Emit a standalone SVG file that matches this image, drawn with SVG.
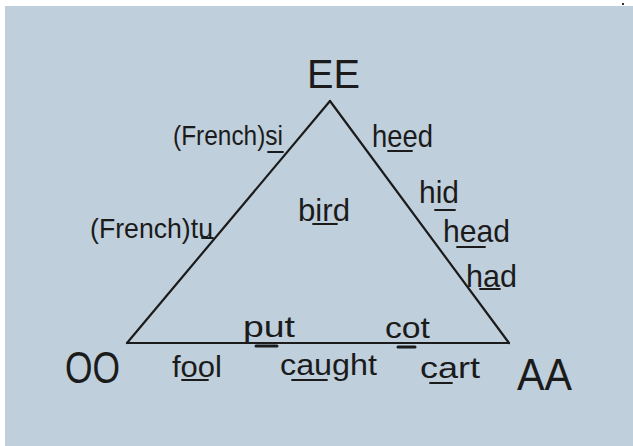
<svg xmlns="http://www.w3.org/2000/svg" width="633" height="446" viewBox="0 0 633 446">
<style>
.hw{font-family:"Liberation Sans","DejaVu Sans",sans-serif;fill:#1b1b1b}
.edge{stroke:#1b1b1b;stroke-width:2.2;fill:none;stroke-linecap:round}
.ul{stroke:#1b1b1b;stroke-width:1.8;stroke-linecap:round}
.ulb{stroke:#1b1b1b;stroke-width:3;stroke-linecap:round}
</style>
<rect x="0" y="0" width="633" height="446" fill="#ffffff"/>
<rect x="5" y="6" width="628" height="440" fill="#bfcfdc"/>
<rect x="622" y="3" width="2" height="2" fill="#333"/>
<g id="connectors">
<line class="edge" x1="330" y1="101" x2="127" y2="343"/>
<line class="edge" x1="330" y1="101" x2="509" y2="343"/>
<line class="edge" x1="127" y1="343" x2="509" y2="343"/>
</g>
<g id="node-EE"><text class="hw" x="307" y="88" font-size="40" textLength="53" lengthAdjust="spacingAndGlyphs">EE</text></g>
<g id="node-OO"><text class="hw" x="65" y="383" font-size="44" textLength="55" lengthAdjust="spacingAndGlyphs">OO</text></g>
<g id="node-AA"><text class="hw" x="517" y="390" font-size="44" textLength="55" lengthAdjust="spacingAndGlyphs">AA</text></g>
<g id="label-si"><text class="hw" x="173" y="145" font-size="27" textLength="110" lengthAdjust="spacingAndGlyphs">(French)si</text><line class="ul" x1="268" y1="152" x2="283" y2="152"/></g>
<g id="label-tu"><text class="hw" x="90" y="238" font-size="28" textLength="123" lengthAdjust="spacingAndGlyphs">(French)tu</text><line class="ul" x1="202" y1="238" x2="213" y2="238"/></g>
<g id="label-bird"><text class="hw" x="298" y="221" font-size="32" textLength="52" lengthAdjust="spacingAndGlyphs">bird</text><line class="ul" x1="313" y1="224" x2="337" y2="224"/></g>
<g id="label-heed"><text class="hw" x="372" y="147" font-size="32" textLength="61" lengthAdjust="spacingAndGlyphs">heed</text><line class="ul" x1="388" y1="151" x2="412" y2="151"/></g>
<g id="label-hid"><text class="hw" x="419" y="203" font-size="32" textLength="40" lengthAdjust="spacingAndGlyphs">hid</text><line class="ul" x1="435" y1="210" x2="455" y2="210"/></g>
<g id="label-head"><text class="hw" x="443" y="242" font-size="32" textLength="67" lengthAdjust="spacingAndGlyphs">head</text><line class="ul" x1="457" y1="247" x2="485" y2="247"/></g>
<g id="label-had"><text class="hw" x="466" y="287" font-size="32" textLength="51" lengthAdjust="spacingAndGlyphs">had</text><line class="ul" x1="480" y1="289" x2="500" y2="289"/></g>
<g id="label-put"><text class="hw" x="243" y="337" font-size="30" textLength="52" lengthAdjust="spacingAndGlyphs">put</text><line class="ulb" x1="256" y1="346" x2="277" y2="346"/></g>
<g id="label-cot"><text class="hw" x="385" y="338" font-size="30" textLength="45" lengthAdjust="spacingAndGlyphs">cot</text><line class="ulb" x1="398" y1="347" x2="415" y2="347"/></g>
<g id="label-fool"><text class="hw" x="172" y="377" font-size="30" textLength="50" lengthAdjust="spacingAndGlyphs">fool</text><line class="ul" x1="182" y1="380" x2="208" y2="380"/></g>
<g id="label-caught"><text class="hw" x="280" y="375" font-size="30" textLength="97" lengthAdjust="spacingAndGlyphs">caught</text><line class="ul" x1="292" y1="380" x2="327" y2="380"/></g>
<g id="label-cart"><text class="hw" x="420" y="378" font-size="30" textLength="60" lengthAdjust="spacingAndGlyphs">cart</text><line class="ul" x1="430" y1="383" x2="452" y2="383"/></g>
</svg>
